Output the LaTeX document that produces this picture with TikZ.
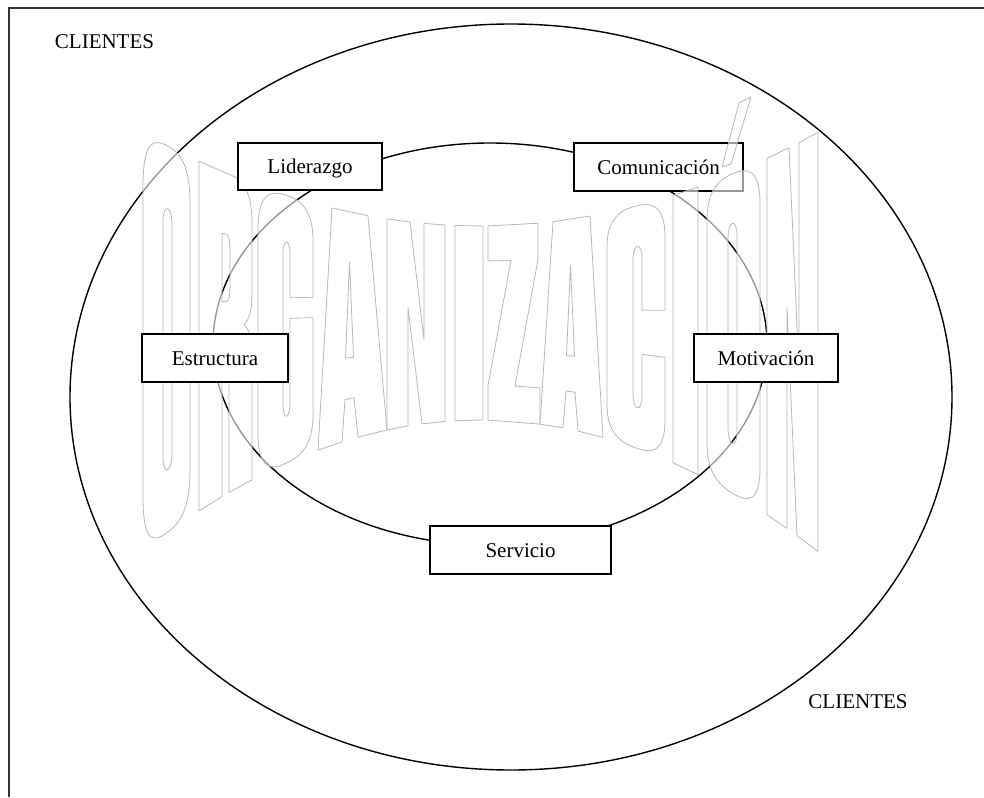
\documentclass[tikz,border=0pt]{standalone}
\usepackage{fontspec}
\setmainfont{Liberation Serif}
\newcommand\wM[2]{({#1},{wtop(#1)+(#2)*(wbot(#1)-wtop(#1))})}
\newcommand\wL[2]{-- ({#1},{wtop(#1)+(#2)*(wbot(#1)-wtop(#1))})}
\newcommand\wC[6]{.. controls ({#1},{wtop(#1)+(#2)*(wbot(#1)-wtop(#1))}) and ({#3},{wtop(#3)+(#4)*(wbot(#3)-wtop(#3))}) .. ({#5},{wtop(#5)+(#6)*(wbot(#5)-wtop(#5))})}
\begin{document}
\begin{tikzpicture}[x=1pt,y=-1pt,
  declare function={wtop(\x)=226-8.2*((\x-480)/100)*((\x-480)/100); wbot(\x)=420+11.5*((\x-480)/100)*((\x-480)/100);},
  wa/.style={draw=black!28, line width=0.8pt, fill=white, fill opacity=0.6, even odd rule, line join=round},
  box/.style={draw=black, line width=1.6pt, fill=white, inner sep=0pt, text height=14pt, text depth=0pt, font=\fontsize{21}{25}\selectfont},
  lbl/.style={inner sep=0pt, text height=14pt, text depth=0pt, font=\fontsize{21}{25}\selectfont},
  ring/.style={draw=black, line width=1.4pt}]
\useasboundingbox (0,0) rectangle (984,797);
\fill[white] (0,0) rectangle (984,797);
\draw[line width=1.6pt, black!80] (9,797) -- (9,8) -- (984,8);
\draw[ring] (511,397) ellipse [x radius=441pt, y radius=373pt];
\draw[ring] (490,344) ellipse [x radius=277pt, y radius=201pt];
\node[box, minimum width=169pt, minimum height=48pt] (com) at (658.5,167) {Comunicación};
% O
\path[wa] \wM{143}{0.13} \wC{143}{0.02}{153}{0}{166.5}{0} \wC{180}{0}{190}{0.02}{190}{0.13} \wL{190}{0.87} \wC{190}{0.98}{180}{1}{166.5}{1} \wC{153}{1}{143}{0.98}{143}{0.87} -- cycle
  \wM{163}{0.2} \wC{163}{0.15}{172}{0.15}{172}{0.2} \wL{172}{0.8} \wC{172}{0.85}{163}{0.85}{163}{0.8} -- cycle;
% R
\path[wa] \wM{199}{1} \wL{199}{0} \wL{232}{0} \wC{245}{0}{252}{0.04}{252}{0.14} \wL{252}{0.37} \wC{252}{0.43}{249}{0.46}{244}{0.475} \wC{249}{0.49}{252}{0.52}{252}{0.58} \wL{252}{1} \wL{229}{1} \wL{229}{0.6} \wC{229}{0.55}{227}{0.53}{222}{0.53} \wL{222}{1} -- cycle
  \wM{222}{0.19} \wL{226}{0.19} \wC{229}{0.19}{230}{0.21}{230}{0.24} \wL{230}{0.35} \wC{230}{0.38}{229}{0.4}{226}{0.4} \wL{222}{0.4} -- cycle;
% G
\path[wa] \wM{258}{0.15} \wC{258}{0.02}{272}{0}{285.5}{0} \wC{299}{0}{313}{0.02}{313}{0.15} \wL{313}{0.38} \wL{290}{0.38} \wL{290}{0.22} \wC{290}{0.16}{283}{0.16}{283}{0.22} \wL{283}{0.78} \wC{283}{0.84}{290}{0.84}{290}{0.78} \wL{290}{0.46} \wL{313}{0.46} \wL{313}{0.85} \wC{313}{0.98}{299}{1}{285.5}{1} \wC{272}{1}{258}{0.98}{258}{0.85} -- cycle;
% A
\path[wa] \wM{318}{1} \wL{332}{0} \wL{368}{0} \wL{387}{1} \wL{358}{1} \wL{354}{0.82} \wL{345}{0.82} \wL{342}{1} -- cycle
  \wM{349.5}{0.22} \wL{353.5}{0.64} \wL{345.5}{0.64} -- cycle;
% N
\path[wa] \wM{387}{1} \wL{387}{0} \wL{410}{0} \wL{424}{0.58} \wL{424}{0} \wL{445}{0} \wL{445}{1} \wL{422}{1} \wL{408}{0.42} \wL{408}{1} -- cycle;
% I
\path[wa] \wM{455}{0} \wL{483}{0} \wL{483}{1} \wL{455}{1} -- cycle;
% Z
\path[wa] \wM{488}{0} \wL{538}{0} \wL{538}{0.18} \wL{515}{0.82} \wL{540}{0.82} \wL{540}{1} \wL{488}{1} \wL{488}{0.82} \wL{511}{0.18} \wL{488}{0.18} -- cycle;
% A
\path[wa] \wM{540}{1} \wL{553}{0} \wL{590}{0} \wL{603}{1} \wL{578}{1} \wL{575}{0.82} \wL{566}{0.82} \wL{563}{1} -- cycle
  \wM{570.5}{0.22} \wL{574.5}{0.65} \wL{566.5}{0.65} -- cycle;
% C
\path[wa] \wM{607}{0.15} \wC{607}{0.02}{622}{0}{636}{0} \wC{650}{0}{665}{0.02}{665}{0.15} \wL{665}{0.43} \wL{642}{0.43} \wL{642}{0.22} \wC{642}{0.15}{633}{0.15}{633}{0.22} \wL{633}{0.78} \wC{633}{0.85}{642}{0.85}{642}{0.78} \wL{642}{0.61} \wL{665}{0.61} \wL{665}{0.85} \wC{665}{0.98}{650}{1}{636}{1} \wC{622}{1}{607}{0.98}{607}{0.85} -- cycle;
% I
\path[wa] \wM{673}{0} \wL{698}{0} \wL{698}{1} \wL{673}{1} -- cycle;
% O with accent
\path[wa] \wM{707}{0.12} \wC{707}{0.02}{720}{0}{733.5}{0} \wC{747}{0}{760}{0.02}{760}{0.12} \wL{760}{0.88} \wC{760}{0.98}{747}{1}{733.5}{1} \wC{720}{1}{707}{0.98}{707}{0.88} -- cycle
  \wM{728}{0.2} \wC{728}{0.14}{737}{0.14}{737}{0.2} \wL{737}{0.8} \wC{737}{0.86}{728}{0.86}{728}{0.8} -- cycle;
\path[wa] (739,103) -- (751,97) -- (731,164) -- (722,167) -- cycle;
% N
\path[wa] \wM{767}{1} \wL{767}{0} \wL{789}{0} \wL{799}{0.58} \wL{799}{0} \wL{818}{0} \wL{818}{1} \wL{797}{1} \wL{787}{0.42} \wL{787}{1} -- cycle;
% boxes
\node[box, minimum width=144pt, minimum height=47pt] (lid) at (310,166.5) {Liderazgo};
\node[box, minimum width=146pt, minimum height=48pt] (est) at (215,358) {Estructura};
\node[box, minimum width=144pt, minimum height=48pt] (mot) at (766,358) {Motivación};
\node[box, minimum width=181pt, minimum height=48pt] (ser) at (520.5,550) {Servicio};
\node[lbl] (cl1) at (104.5,42) {CLIENTES};
\node[lbl] (cl2) at (858,701) {CLIENTES};
\end{tikzpicture}
\end{document}
